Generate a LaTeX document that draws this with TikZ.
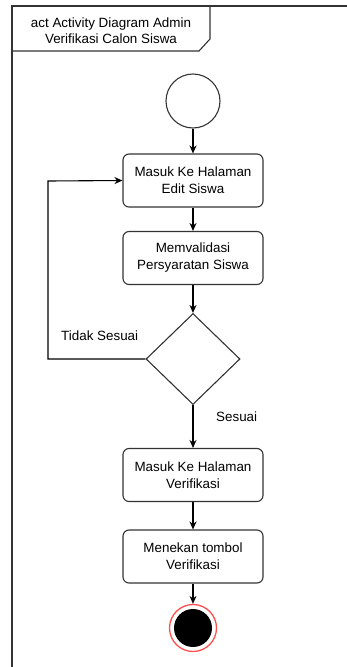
\documentclass[tikz,border=0pt]{standalone}
\usepackage{fontspec}
\setmainfont{Liberation Sans}
\usetikzlibrary{arrows.meta,shapes.geometric}
\definecolor{ln}{HTML}{333333}
\tikzset{
  act/.style={draw=ln, line width=1.1pt, rounded corners=6pt, minimum width=140pt, minimum height=53pt, align=center, font=\fontsize{13.4}{17}\selectfont, inner sep=0pt},
  flow/.style={draw=black, line width=1.1pt, -{Stealth[length=8pt,width=7pt]}},
  lbl/.style={font=\fontsize{13.4}{16}\selectfont, inner sep=0pt}
}
\begin{document}
\begin{tikzpicture}[x=1pt,y=-1pt]
\useasboundingbox (0,0) rectangle (347,667);
% frame
\draw[ln, line width=1.1pt] (12,667) -- (12,6) -- (347,6);
\draw[ln, line width=1.1pt] (12,51) -- (199,51) -- (210,39) -- (210,6);
\node[lbl, align=center, font=\fontsize{13.4}{16}\selectfont] (title) at (111,30.5) {act Activity Diagram Admin\\Verifikasi Calon Siswa};
% nodes
\node[circle, draw=ln, line width=1.1pt, minimum size=54pt, inner sep=0pt] (start) at (193,101) {};
\node[act] (a1) at (193,180.5) {Masuk Ke Halaman\\Edit Siswa};
\node[act] (a2) at (193,258) {Memvalidasi\\Persyaratan Siswa};
\node[diamond, draw=ln, line width=1.1pt, minimum width=94pt, minimum height=91pt, inner sep=0pt] (d) at (193,359) {};
\node[act] (a3) at (193,475) {Masuk Ke Halaman\\Verifikasi};
\node[act] (a4) at (193,556.5) {Menekan tombol\\Verifikasi};
\node[circle, draw={rgb,255:red,255;green,80;blue,80}, line width=1.3pt, minimum size=47pt, inner sep=0pt] (endo) at (193,628) {};
\node[circle, fill=black, minimum size=38pt, inner sep=0pt] (endi) at (193,628) {};
% labels
\node[lbl, anchor=west] (tidak) at (61,336) {Tidak Sesuai};
\node[lbl, anchor=west] (sesuai) at (216,417) {Sesuai};
% edges
\coordinate (c1) at (48,359);
\coordinate (c2) at (48,181);
\draw[flow] (start) -- (a1);
\draw[flow] (a1) -- (a2);
\draw[flow] (a2) -- (d);
\draw[flow] (d.west) -- (c1) -- (c2) -- (a1.west);
\draw[flow] (d) -- (a3);
\draw[flow] (a3) -- (a4);
\draw[flow] (a4) -- (endo);
\end{tikzpicture}
\end{document}
